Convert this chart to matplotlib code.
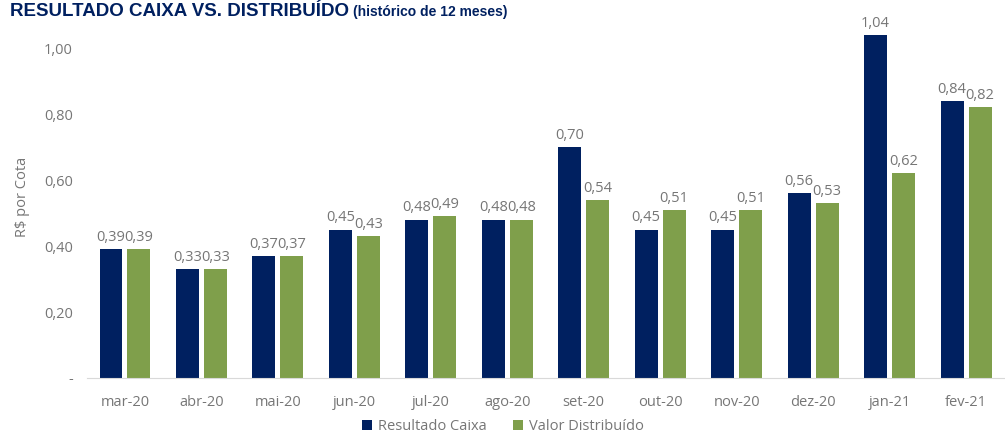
import matplotlib.pyplot as plt
import numpy as np

# dados (R$ por cota)
meses = ['mar-20', 'abr-20', 'mai-20', 'jun-20', 'jul-20', 'ago-20',
         'set-20', 'out-20', 'nov-20', 'dez-20', 'jan-21', 'fev-21']
resultado_caixa = [0.39, 0.33, 0.37, 0.45, 0.48, 0.48, 0.70, 0.45, 0.45, 0.56, 1.04, 0.84]
valor_distribuido = [0.39, 0.33, 0.37, 0.43, 0.49, 0.48, 0.54, 0.51, 0.51, 0.53, 0.62, 0.82]
yticks = [0, 0.2, 0.4, 0.6, 0.8, 1.0]
ytick_labels = ['-', '0,20', '0,40', '0,60', '0,80', '1,00']

AZUL = '#002060'
VERDE = '#7F9F4B'
CINZA = '#767676'

plt.rcParams['font.family'] = ['Open Sans', 'DejaVu Sans']

fig = plt.figure(figsize=(10.05, 4.32), dpi=100)
ax = fig.add_axes([0.0863, 0.125, 0.913, 0.84])

x = np.arange(len(meses))
w = 0.3
off = 0.183
b1 = ax.bar(x - off, resultado_caixa, w, color=AZUL, label='Resultado Caixa')
b2 = ax.bar(x + off, valor_distribuido, w, color=VERDE, label='Valor Distribuído')

for bars, vals in ((b1, resultado_caixa), (b2, valor_distribuido)):
    for r, v in zip(bars, vals):
        ax.annotate(f'{v:.2f}'.replace('.', ','), (r.get_x() + r.get_width() / 2, v),
                    xytext=(0, 3), textcoords='offset points',
                    ha='center', va='bottom', fontsize=10.5, color=CINZA)

ax.set_xlim(-0.5, len(meses) - 0.5)
ax.set_ylim(0, 1.1)
ax.set_xticks(x)
ax.set_xticklabels(meses, fontsize=10.5, color=CINZA)
ax.set_yticks(yticks)
ax.set_yticklabels(ytick_labels, fontsize=10.5, color=CINZA)
ax.tick_params(length=0, axis='x', pad=12)
ax.tick_params(length=0, axis='y', pad=10)
ax.set_ylabel('R$ por Cota', fontsize=10.5, color=CINZA, labelpad=10)

for s in ['top', 'right', 'left']:
    ax.spines[s].set_visible(False)
ax.spines['bottom'].set_color('#D9D9D9')

fig.legend(loc='lower center', bbox_to_anchor=(0.5, -0.035), ncol=2, frameon=False,
           fontsize=10.5, labelcolor=CINZA, handlelength=0.7, handleheight=0.7,
           handletextpad=0.4, columnspacing=1.8)

# título no topo
fig.text(0.01, 0.962, 'RESULTADO CAIXA VS. DISTRIBUÍDO', fontsize=13.5, fontweight='bold',
         color=AZUL, family='Liberation Sans', va='baseline')
fig.text(0.351, 0.962, '(histórico de 12 meses)', fontsize=10, fontweight='bold',
         color=AZUL, family='Liberation Sans', va='baseline')

fig.savefig('out.png', dpi=100)
